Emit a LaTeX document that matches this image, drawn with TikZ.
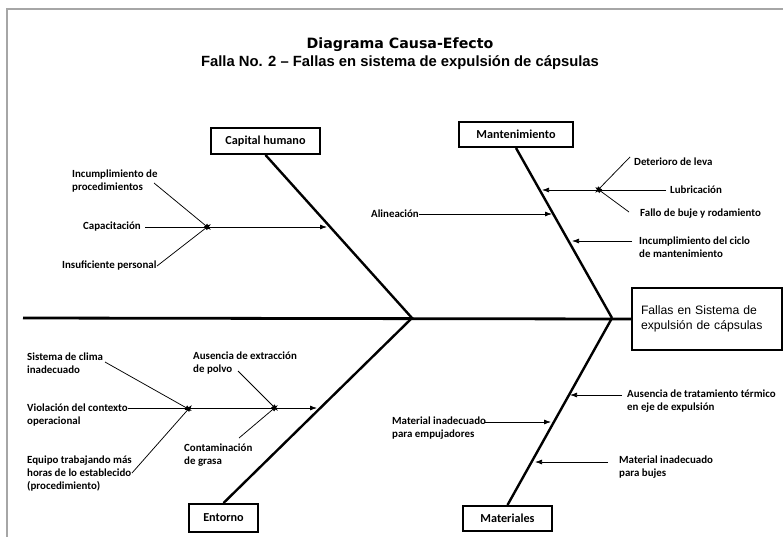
\documentclass[tikz,border=0pt]{standalone}
\usepackage{fontspec}
\setmainfont{Carlito}
\newfontfamily\arialf{Liberation Sans}
\newfontfamily\subfont{Liberation Sans Bold}
\newfontfamily\titlefont{DejaVu Sans Bold}
\usetikzlibrary{arrows.meta}

\begin{document}
\begin{tikzpicture}[x=1pt,y=-1pt,
  spine/.style={line width=2.8pt},
  bone/.style={line width=2.4pt},
  catbox/.style={draw, line width=2pt, inner sep=0pt,
    font=\bfseries\fontsize{12.2}{14}\selectfont},
  lbl/.style={font=\bfseries\fontsize{10.9}{13}\selectfont, align=left,
    inner sep=0pt, anchor=west},
  cause/.style={line width=0.75pt, -{Latex[length=7pt,width=5pt]}},
]
\useasboundingbox (0,0) rectangle (783,536);

% frame of the sheet
\draw[gray!70, line width=1.2pt] (7,560) -- (7,9) -- (800,9);

% titles
\node[anchor=base, inner sep=0pt] (title) at (400,48) {\titlefont\fontsize{14.2}{16}\selectfont Diagrama Causa-Efecto};
\node[anchor=base, inner sep=0pt] (subtitle) at (400,66) {\subfont\fontsize{14.8}{16}\selectfont Falla No. 2 – Fallas en sistema de expulsión de cápsulas};

% effect box and spine
\node[draw, line width=2pt, minimum height=62pt, text width=132pt,
      inner xsep=9pt, inner ysep=0pt, align=left,
      font=\arialf\fontsize{12.2}{15}\selectfont] (effect) at (707,319)
  {Fallas en Sistema de\\expulsión de cápsulas};
\coordinate (tail) at (23,318);
\coordinate (jl) at (412,318);
\coordinate (jr) at (612,318);
\draw[spine] (tail) -- (effect.west);

% category boxes
\node[catbox, minimum width=109pt, minimum height=26pt] (ch) at (265.5,141) {Capital humano};
\node[catbox, minimum width=114pt, minimum height=25pt] (mt) at (516,134.5) {Mantenimiento};
\node[catbox, minimum width=69pt,  minimum height=28pt] (en) at (223.5,518) {Entorno};
\node[catbox, minimum width=89pt,  minimum height=25pt] (ma) at (507.5,518.5) {Materiales};

% main bones
\draw[bone] (ch.south) -- (jl);
\draw[bone] (en.north) -- (jl);
\draw[bone] (mt.south) -- (jr);
\draw[bone] (ma.north) -- (jr);

% ---- Capital humano
\coordinate (chj) at (211,227);
\coordinate (cht) at (327,227);
\node[lbl] (capac) at (83,227) {Capacitación};
\node[lbl] (incp) at (72,181) {Incumplimiento de\\procedimientos};
\node[lbl] (insp) at (62,266) {Insuficiente personal};
\coordinate (incps) at (154,183);
\coordinate (insps) at (157,266);
\draw[cause] ([xshift=4pt]capac.east) -- (cht);
\draw[cause] (incps) -- ([yshift=-3pt]chj);
\draw[cause] (insps) -- ([yshift=3pt]chj);

% ---- Mantenimiento
\node[lbl] (alin) at (371,214) {Alineación};
\coordinate (alint) at (552,214);
\draw[cause] (alin.east) -- (alint);

\node[lbl] (lubr) at (670,190) {Lubricación};
\coordinate (mtj) at (595,190);
\coordinate (lubt) at (542,190);
\draw[cause] ([xshift=-4pt]lubr.west) -- (lubt);
\node[lbl] (dete) at (634,162) {Deterioro de leva};
\node[lbl] (fall) at (640,214) {Fallo de buje y rodamiento};
\coordinate (detes) at (630,157);
\coordinate (falls) at (629,212);
\draw[cause] (detes) -- ([yshift=-3pt]mtj);
\draw[cause] (falls) -- ([yshift=3pt]mtj);

\node[lbl] (incc) at (639,247) {Incumplimiento del ciclo\\de mantenimiento};
\coordinate (inccs) at (632,241);
\coordinate (incct) at (572,241);
\draw[cause] (inccs) -- (incct);

% ---- Entorno
\node[lbl] (viol) at (27,415) {Violación del contexto\\operacional};
\coordinate (viols) at (128,408);
\coordinate (enj1) at (192,408);
\coordinate (enj2) at (278,408);
\coordinate (ent) at (317,408);
\draw[cause] (viols) -- (ent);

\node[lbl] (clim) at (27,363) {Sistema de clima\\inadecuado};
\node[lbl] (equi) at (27,474) {Equipo trabajando más\\horas de lo establecido\\(procedimiento)};
\coordinate (clims) at (105,362);
\coordinate (equis) at (132,473);
\draw[cause] (clims) -- ([yshift=-3pt]enj1);
\draw[cause] (equis) -- ([yshift=3pt]enj1);

\node[lbl] (ause) at (193,363) {Ausencia de extracción\\de polvo};
\node[lbl] (cont) at (184,455) {Contaminación\\de grasa};
\coordinate (auses) at (238,371);
\coordinate (conts) at (239,438);
\draw[cause] (auses) -- ([yshift=-3pt]enj2);
\draw[cause] (conts) -- ([yshift=3pt]enj2);

% ---- Materiales
\node[lbl] (trat) at (627,401) {Ausencia de tratamiento térmico\\en eje de expulsión};
\coordinate (trats) at (622,395);
\coordinate (tratt) at (570,395);
\draw[cause] (trats) -- (tratt);

\node[lbl] (emp) at (392,428) {Material inadecuado\\para empujadores};
\coordinate (emps) at (485,422);
\coordinate (empt) at (551,422);
\draw[cause] (emps) -- (empt);

\node[lbl] (buj) at (619,467) {Material inadecuado\\para bujes};
\coordinate (bujs) at (608,462);
\coordinate (bujt) at (535,462);
\draw[cause] (bujs) -- (bujt);
\end{tikzpicture}
\end{document}
